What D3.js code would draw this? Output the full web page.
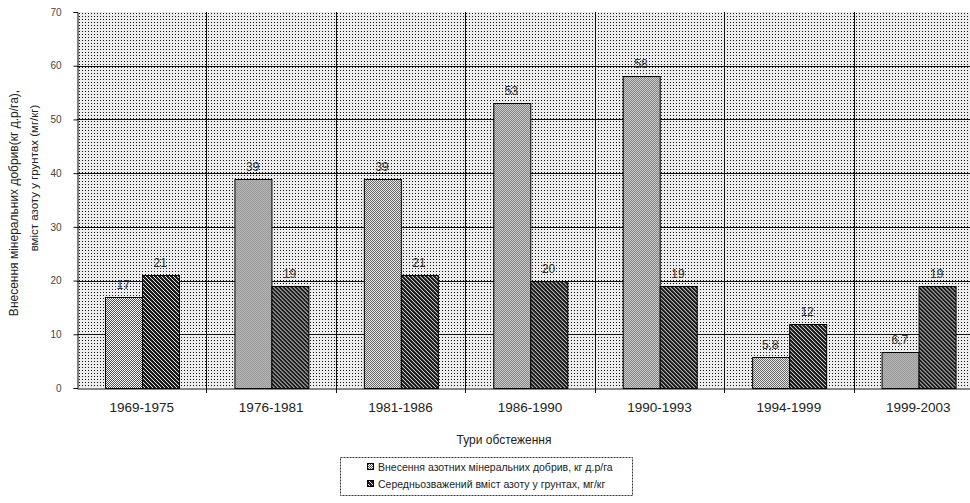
<!DOCTYPE html>
<html><head><meta charset="utf-8">
<script src="https://cdn.jsdelivr.net/npm/d3@7"></script>
<style>
html,body{margin:0;padding:0;background:#fff;}
svg{display:block;font-family:"Liberation Sans",Arial,sans-serif;}
</style></head>
<body>
<script>
const categories = ["1969-1975","1976-1981","1981-1986","1986-1990","1990-1993","1994-1999","1999-2003"];
const fertilizer = [17, 39, 39, 53, 58, 5.8, 6.7];
const nitrogen = [21, 19, 21, 20, 19, 12, 19];
const seriesNames = ["Внесення азотних мінеральних добрив, кг д.р/га","Середньозважений вміст азоту у грунтах, мг/кг"];
const yTicks = [0,10,20,30,40,50,60,70];
const yTitle = ["Внесення мінеральних добрив(кг д.р/га),","вміст азоту у грунтах (мг/кг)"];
const xTitle = "Тури обстеження";

const W = 970, H = 503;
const m = {left: 77, top: 12, right: 983, bottom: 388};
const svg = d3.select("body").append("svg").attr("width", W).attr("height", H);
const defs = svg.append("defs");

const pb = defs.append("pattern").attr("id","bg").attr("width",3).attr("height",3).attr("patternUnits","userSpaceOnUse");
pb.append("rect").attr("width",3).attr("height",3).attr("fill","#ededed");
pb.append("rect").attr("x",1).attr("y",1).attr("width",1).attr("height",1).attr("fill","#111");
const pl = defs.append("pattern").attr("id","light").attr("width",2).attr("height",2).attr("patternUnits","userSpaceOnUse");
pl.append("rect").attr("width",2).attr("height",2).attr("fill","#ffffff");
pl.append("rect").attr("x",0).attr("y",0).attr("width",1).attr("height",1).attr("fill","#505050");
pl.append("rect").attr("x",1).attr("y",1).attr("width",1).attr("height",1).attr("fill","#505050");
const pd = defs.append("pattern").attr("id","dark").attr("width",4).attr("height",4).attr("patternUnits","userSpaceOnUse");
pd.append("rect").attr("width",4).attr("height",4).attr("fill","#1c1c1c");
for (let i=0;i<4;i++) pd.append("rect").attr("x",i).attr("y",i).attr("width",1).attr("height",1).attr("fill","#e8e8e8");

const x0 = d3.scaleBand().domain(categories).range([m.left, m.right]).paddingInner(0).paddingOuter(0);
const x1 = d3.scaleBand().domain([0,1]).range([0, x0.bandwidth()]).paddingInner(0).paddingOuter(0.75);
const y = d3.scaleLinear().domain([0,70]).range([m.bottom, m.top]);

svg.append("rect").attr("x",m.left).attr("y",m.top).attr("width",m.right-m.left).attr("height",m.bottom-m.top)
  .attr("fill","url(#bg)");

svg.append("g").selectAll("line").data(yTicks.filter(d=>d>0 && d<70)).join("line")
  .attr("x1",m.left).attr("x2",m.right).attr("y1",d=>Math.round(y(d))+0.5).attr("y2",d=>Math.round(y(d))+0.5)
  .attr("stroke","#111").attr("stroke-width",1);
svg.append("g").selectAll("line").data(categories.slice(1)).join("line")
  .attr("x1",d=>Math.round(x0(d))+0.5).attr("x2",d=>Math.round(x0(d))+0.5)
  .attr("y1",m.top).attr("y2",m.bottom+5)
  .attr("stroke","#111").attr("stroke-width",1);

const data = categories.map((c,i)=>({c, v:[fertilizer[i], nitrogen[i]]}));
const g = svg.append("g").selectAll("g").data(data).join("g").attr("transform",d=>`translate(${x0(d.c)},0)`);
g.selectAll("rect").data(d=>d.v.map((v,k)=>({v,k}))).join("rect")
  .attr("x",d=>Math.round(x1(d.k))+0.5).attr("width",Math.round(x1.bandwidth()))
  .attr("y",d=>Math.round(y(d.v))+0.5).attr("height",d=>m.bottom-Math.round(y(d.v)))
  .attr("fill",d=>d.k===0?"url(#light)":"url(#dark)")
  .attr("stroke","#000").attr("stroke-width",1);
g.selectAll("text").data(d=>d.v.map((v,k)=>({v,k}))).join("text")
  .attr("x",d=>x1(d.k)+x1.bandwidth()/2).attr("y",d=>y(d.v)-8)
  .attr("text-anchor","middle").attr("font-size",12).attr("fill","#333")
  .text(d=>String(d.v).replace(".",","));

const ya = d3.axisLeft(y).tickValues(yTicks).tickSize(4).tickPadding(12);
svg.append("g").attr("transform",`translate(${m.left+0.5},0)`).call(ya)
  .call(s=>{s.selectAll("text").attr("font-size",10).attr("fill","#444").attr("font-family","Liberation Sans, Arial");
            s.selectAll("line,path").attr("stroke","#111");});
const xa = d3.axisBottom(x0).tickSize(0).tickPadding(14);
svg.append("g").attr("transform",`translate(0,${m.bottom+0.5})`).call(xa)
  .call(s=>{s.selectAll("text").attr("font-size",13.5).attr("fill","#222").attr("font-family","Liberation Sans, Arial");
            s.selectAll("path").attr("stroke","#111");});

svg.append("text").attr("transform","translate(18,203) rotate(-90)").attr("text-anchor","middle")
  .attr("font-size",12).attr("fill","#222").text(yTitle[0]);
svg.append("text").attr("transform","translate(38,178) rotate(-90)").attr("text-anchor","middle")
  .attr("font-size",11.5).attr("fill","#222").text(yTitle[1]);
svg.append("text").attr("x",504).attr("y",444).attr("text-anchor","middle")
  .attr("font-size",12).attr("fill","#222").text(xTitle);

const lg = svg.append("g");
lg.append("rect").attr("x",340.5).attr("y",457.5).attr("width",292).attr("height",38)
  .attr("fill","#fff").attr("stroke","#333").attr("stroke-dasharray","2,1");
seriesNames.forEach((n,i)=>{
  const yy = 467 + i*17;
  lg.append("rect").attr("x",367.5).attr("y",yy-3.5).attr("width",6).attr("height",6)
    .attr("fill",i===0?"url(#light)":"url(#dark)").attr("stroke","#000");
  lg.append("text").attr("x",378).attr("y",yy+4).attr("font-size",10.5).attr("fill","#222").text(n);
});
</script>
</body></html>
